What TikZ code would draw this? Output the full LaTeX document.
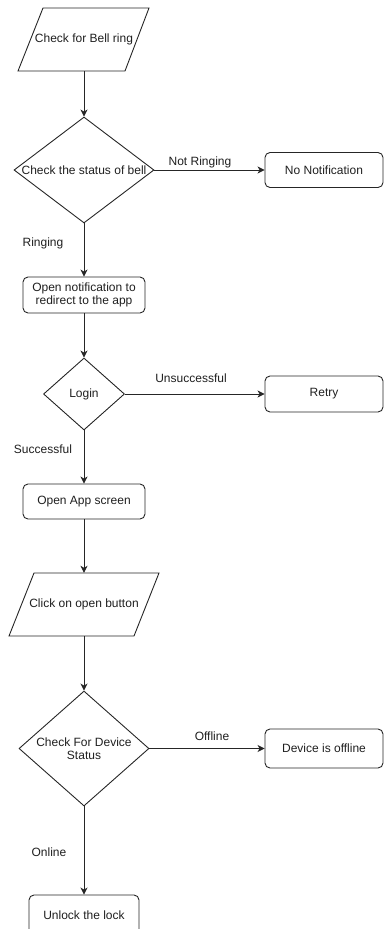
\documentclass[tikz,border=0pt]{standalone}
\usepackage{fontspec}
\setmainfont{Liberation Sans}
\usetikzlibrary{shapes.geometric,arrows.meta}
\tikzset{
  x=1pt,y=-1pt,
  every node/.style={font=\fontsize{12}{13.5}\selectfont, text=black!88},
  shp/.style={draw=black!85, line width=0.9pt},
  anchorbox/.style={inner sep=0pt, align=center},
  rbox/.style={shp, rounded corners=5pt, inner sep=0pt, align=center, minimum width=#1},
  dia/.style={shp, diamond, inner sep=0pt},
  lbl/.style={inner sep=0pt},
  arr/.style={draw=black!85, line width=0.9pt, -{Stealth[length=7pt,width=7pt,inset=2pt]}},
}
\begin{document}
\begin{tikzpicture}
\useasboundingbox (0,0) rectangle (384,929);
% input 1
\draw[shp] (43,8) -- (149,8) -- (125,71) -- (18,71) -- cycle;
\node[anchorbox, minimum height=63pt] (p1) at (84,39.5) {Check for Bell ring};
% decision 1
\node[dia, minimum width=140pt, minimum height=106pt,
      label={center:Check the status of bell}] (d1) at (84,170) {};
\node[rbox=118pt, minimum height=35pt] (n1) at (324,170) {No Notification};
\node[rbox=122pt, minimum height=36pt] (b2) at (84,295) {Open notification to\\redirect to the app};
% login
\node[dia, minimum width=81pt, minimum height=72pt, label={center:Login}] (d2) at (84,394) {};
\node[rbox=118pt, minimum height=36pt] (r) at (324,394) {Retry};
\node[rbox=122pt, minimum height=35pt] (b3) at (84,501.5) {Open App screen};
% input 2
\draw[shp] (34,573) -- (159,573) -- (134,636) -- (9,636) -- cycle;
\node[anchorbox, minimum height=63pt] (p2) at (84,604.5) {Click on open button};
% decision 3
\node[dia, minimum width=130pt, minimum height=115pt,
      label={[align=center]center:Check For Device\\Status}] (d3) at (84,748.5) {};
\node[rbox=118pt, minimum height=39pt] (off) at (324,748.5) {Device is offline};
\node[rbox=110pt, minimum height=40pt] (u) at (84,915) {Unlock the lock};
% connectors
\draw[arr] (p1.south) -- (d1.north);
\draw[arr] (d1.east) -- (n1.west);
\draw[arr] (d1.south) -- (b2.north);
\draw[arr] (b2.south) -- (d2.north);
\draw[arr] (d2.east) -- (r.west);
\draw[arr] (d2.south) -- (b3.north);
\draw[arr] (b3.south) -- (p2.north);
\draw[arr] (p2.south) -- (d3.north);
\draw[arr] (d3.east) -- (off.west);
\draw[arr] (d3.south) -- (u.north);
% labels
\node[lbl] (l1) at (200,162) {Not Ringing};
\node[lbl] (l2) at (43,243) {Ringing};
\node[lbl] (l3) at (191,378) {Unsuccessful};
\node[lbl] (l4) at (43,449) {Successful};
\node[lbl] (l5) at (212,736) {Offline};
\node[lbl] (l6) at (49,852) {Online};
\end{tikzpicture}
\end{document}
